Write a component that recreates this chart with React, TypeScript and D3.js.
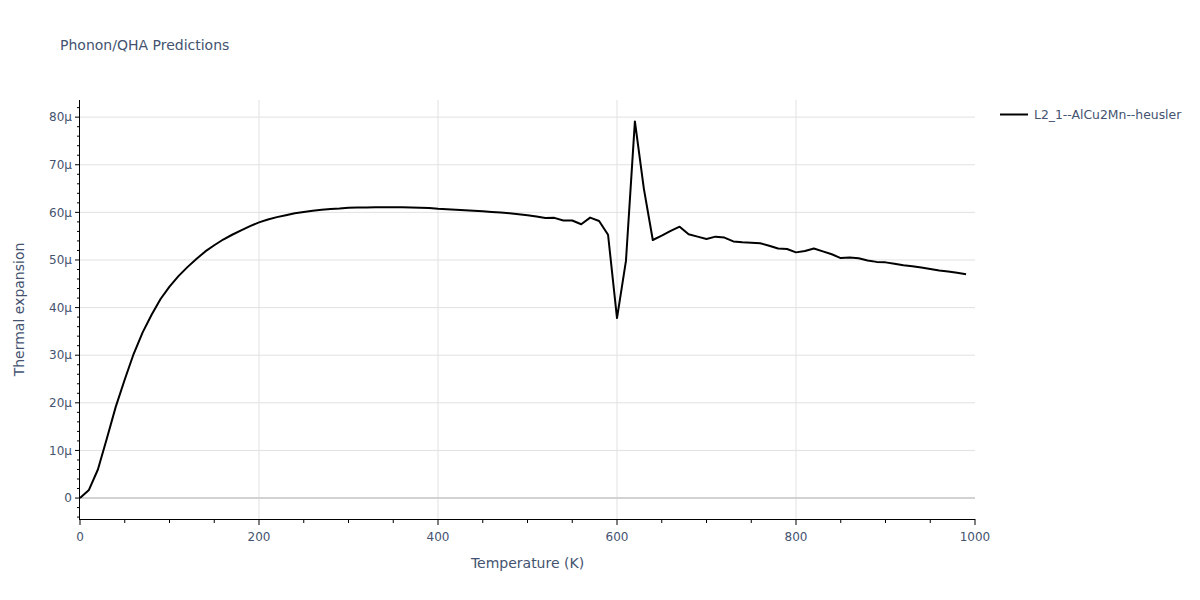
import React from "react";
import * as d3 from "d3";

const temperatures = [
  0, 10, 20, 30, 40, 50, 60, 70, 80, 90,
  100, 110, 120, 130, 140, 150, 160, 170, 180, 190,
  200, 210, 220, 230, 240, 250, 260, 270, 280, 290,
  300, 310, 320, 330, 340, 350, 360, 370, 380, 390,
  400, 410, 420, 430, 440, 450, 460, 470, 480, 490,
  500, 510, 520, 530, 540, 550, 560, 570, 580, 590,
  600, 610, 620, 630, 640, 650, 660, 670, 680, 690,
  700, 710, 720, 730, 740, 750, 760, 770, 780, 790,
  800, 810, 820, 830, 840, 850, 860, 870, 880, 890,
  900, 910, 920, 930, 940, 950, 960, 970, 980, 990,
];

// thermal expansion in units of 1e-6 (μ)
const expansionMicro = [
  0, 1.7, 6.0, 12.5, 19.2, 24.9, 30.3, 34.8, 38.5, 41.8,
  44.4, 46.6, 48.5, 50.2, 51.8, 53.1, 54.3, 55.3, 56.2, 57.1,
  57.9, 58.5, 59.0, 59.4, 59.8, 60.1, 60.35, 60.55, 60.7, 60.8,
  60.95, 61.0, 61.0, 61.05, 61.1, 61.1, 61.05, 61.0, 60.95, 60.9,
  60.75, 60.65, 60.55, 60.45, 60.35, 60.25, 60.1, 59.95, 59.8, 59.6,
  59.4, 59.15, 58.8, 58.85, 58.3, 58.3, 57.5, 58.9, 58.2, 55.3,
  37.8, 49.8, 79.1, 65.0, 54.2, 55.1, 56.1, 57.0, 55.4, 54.9,
  54.4, 54.9, 54.7, 53.9, 53.7, 53.6, 53.5, 53.0, 52.4, 52.3,
  51.6, 51.9, 52.4, 51.8, 51.2, 50.4, 50.5, 50.35, 49.9, 49.6,
  49.5, 49.2, 48.9, 48.7, 48.4, 48.1, 47.8, 47.6, 47.3, 47.0,
];

const xMajorTicks = [0, 200, 400, 600, 800, 1000];
const xMinorTicks = [50, 100, 150, 250, 300, 350, 450, 500, 550, 650, 700, 750, 850, 900, 950];
const yMajorTicks = [0, 10, 20, 30, 40, 50, 60, 70, 80];
const yMinorTicks = [-4, -2, 2, 4, 6, 8, 12, 14, 16, 18, 22, 24, 26, 28, 32, 34, 36, 38, 42, 44, 46, 48, 52, 54, 56, 58, 62, 64, 66, 68, 72, 74, 76, 78, 82];

const seriesName = "L2_1--AlCu2Mn--heusler";
const chartTitle = "Phonon/QHA Predictions";
const xTitle = "Temperature (K)";
const yTitle = "Thermal expansion";

const FONT = "Verdana, 'DejaVu Sans', sans-serif";
const TEXT = "#44536f";

export default function App() {
  const left = 80, right = 975, top = 100, bottom = 519;
  const x = d3.scaleLinear().domain([0, 1000]).range([left, right]);
  const y = d3.scaleLinear().domain([-4.4, 83.6]).range([bottom, top]);
  const data = temperatures.map((t, i) => [t, expansionMicro[i]] as [number, number]);
  const line = d3.line<[number, number]>().x((d) => x(d[0])).y((d) => y(d[1]));
  const fmt = (v: number) => (v === 0 ? "0" : `${v}μ`);

  return (
    <svg width={1200} height={600} style={{ position: "absolute", left: 0, top: 0, background: "#fff" }} fontFamily={FONT}>
      <rect x={0} y={0} width={1200} height={600} fill="#fff" />
      {/* grid */}
      {xMajorTicks.filter((t) => t > 0 && t < 1000).map((t) => (
        <line key={"gx" + t} x1={x(t)} x2={x(t)} y1={top} y2={bottom} stroke="#e1e1e1" strokeWidth={1} />
      ))}
      {yMajorTicks.filter((t) => t !== 0).map((t) => (
        <line key={"gy" + t} x1={left} x2={right} y1={y(t)} y2={y(t)} stroke="#e1e1e1" strokeWidth={1} />
      ))}
      <line x1={left} x2={right} y1={y(0)} y2={y(0)} stroke="#d2d2d2" strokeWidth={2} />

      {/* data line */}
      <path d={line(data) || ""} fill="none" stroke="#000" strokeWidth={2} strokeLinejoin="round" />

      {/* axes */}
      <line x1={left - 0.5} x2={left - 0.5} y1={top} y2={bottom + 1} stroke="#000" strokeWidth={1} />
      <line x1={left - 1} x2={right} y1={bottom + 0.5} y2={bottom + 0.5} stroke="#000" strokeWidth={1} />
      {yMajorTicks.map((t) => (
        <line key={"ty" + t} x1={left - 5} x2={left} y1={y(t)} y2={y(t)} stroke="#000" strokeWidth={1} />
      ))}
      {yMinorTicks.map((t) => (
        <line key={"tym" + t} x1={left - 3} x2={left} y1={y(t)} y2={y(t)} stroke="#000" strokeWidth={1} />
      ))}
      {xMajorTicks.map((t) => (
        <line key={"tx" + t} x1={x(t)} x2={x(t)} y1={bottom} y2={bottom + 6} stroke="#000" strokeWidth={1} />
      ))}
      {xMinorTicks.map((t) => (
        <line key={"txm" + t} x1={x(t)} x2={x(t)} y1={bottom} y2={bottom + 4} stroke="#000" strokeWidth={1} />
      ))}

      {/* tick labels */}
      {yMajorTicks.map((t) => (
        <text key={"ly" + t} x={72} y={y(t)} dy="0.35em" textAnchor="end" fontSize={12} fill={TEXT}>
          {fmt(t)}
        </text>
      ))}
      {xMajorTicks.map((t) => (
        <text key={"lx" + t} x={x(t)} y={540.5} textAnchor="middle" fontSize={12} fill={TEXT}>
          {t}
        </text>
      ))}

      {/* titles */}
      <text x={60} y={50} fontSize={14} fill={TEXT}>{chartTitle}</text>
      <text x={(left + right) / 2} y={568} textAnchor="middle" fontSize={14} fill={TEXT}>{xTitle}</text>
      <text transform={`translate(24,${(top + bottom) / 2}) rotate(-90)`} textAnchor="middle" fontSize={14} fill={TEXT}>
        {yTitle}
      </text>

      {/* legend */}
      <line x1={1000} x2={1028} y1={114.5} y2={114.5} stroke="#000" strokeWidth={2} />
      <text x={1034} y={114.5} dy="0.35em" fontSize={12.4} fill={TEXT}>{seriesName}</text>
    </svg>
  );
}
